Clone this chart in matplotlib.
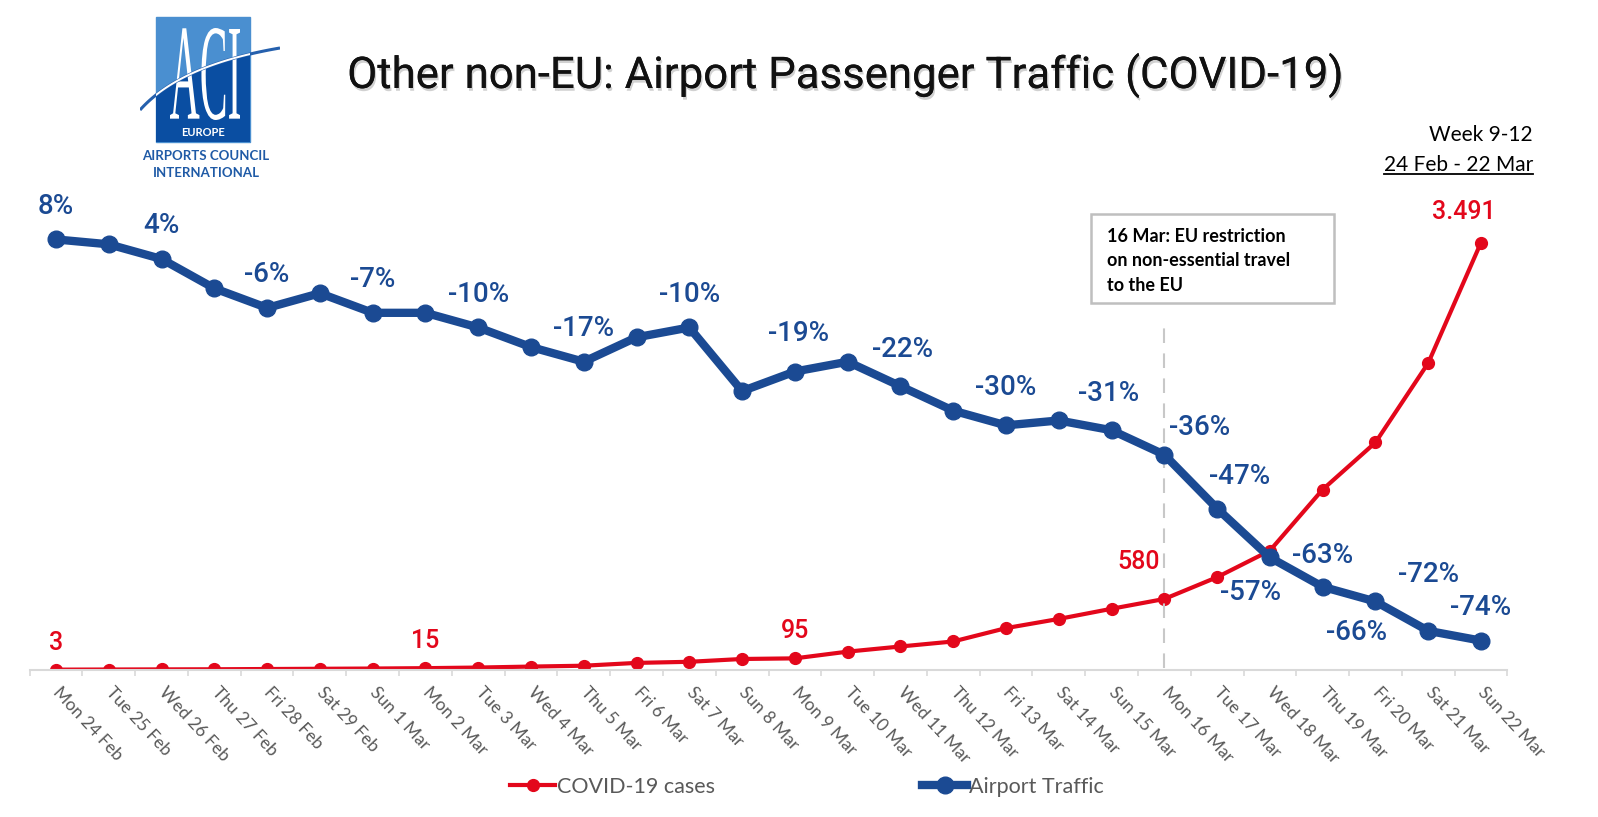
import matplotlib
matplotlib.use('Agg')
import matplotlib.pyplot as plt
from matplotlib import font_manager, patheffects
from matplotlib.patches import Rectangle, PathPatch
from matplotlib.path import Path
from matplotlib.textpath import TextPath
from matplotlib.transforms import Affine2D
from matplotlib.lines import Line2D
import numpy as np

# data
days = ['Mon 24 Feb', 'Tue 25 Feb', 'Wed 26 Feb', 'Thu 27 Feb', 'Fri 28 Feb', 'Sat 29 Feb',
        'Sun 1 Mar', 'Mon 2 Mar', 'Tue 3 Mar', 'Wed 4 Mar', 'Thu 5 Mar', 'Fri 6 Mar',
        'Sat 7 Mar', 'Sun 8 Mar', 'Mon 9 Mar', 'Tue 10 Mar', 'Wed 11 Mar', 'Thu 12 Mar',
        'Fri 13 Mar', 'Sat 14 Mar', 'Sun 15 Mar', 'Mon 16 Mar', 'Tue 17 Mar', 'Wed 18 Mar',
        'Thu 19 Mar', 'Fri 20 Mar', 'Sat 21 Mar', 'Sun 22 Mar']
traffic = [8, 7, 4, -2, -6, -3, -7, -7, -10, -14, -17, -12, -10, -23, -19, -17, -22, -27,
           -30, -29, -31, -36, -47, -57, -63, -66, -72, -74]
cases = [3, 4, 5, 6, 8, 10, 12, 15, 20, 28, 35, 58, 67, 90, 95, 150, 192, 233, 342, 417,
         500, 580, 758, 975, 1474, 1858, 2507, 3491]
traffic_labelled = [0, 2, 4, 6, 8, 10, 12, 14, 16, 18, 20, 21, 22, 23, 24, 25, 26, 27]
cases_labelled = [0, 7, 14, 21, 27]

# label offsets in pixels (layout only)
traffic_off = {14: (4, 38), 16: (2, 37), 18: (0, 38), 20: (-3, 37), 21: (35, 27),
               22: (22, 32), 23: (-19, -35), 24: (0, 31), 25: (-19, -31), 26: (0, 56)}
cases_off = {21: (-26, 37), 27: (-17, 31)}

BLUE = '#1b4a93'
RED = '#e3071b'
GREY = '#595959'
W, H = 1598, 817

names = {f.name for f in font_manager.fontManager.ttflist}
def pick(*fams):
    return [f for f in fams if f in names] + ['DejaVu Sans']
NARROW = pick('Liberation Sans Narrow', 'DejaVu Sans Condensed', 'Roboto')
BODY = pick('Lato', 'Carlito')
TITLE = pick('Roboto')

fig = plt.figure(figsize=(W / 100, H / 100), dpi=100)
ax = fig.add_axes([29.6 / W, 147 / H, 1477.8 / W, 480 / H])
ax2 = ax.twinx()

x = np.arange(len(days))
l_red, = ax.plot(x, cases, color=RED, lw=3, marker='o', markersize=8.5)
l_blue, = ax2.plot(x, traffic, color=BLUE, lw=6, marker='o', markersize=12)
ax.axvline(21, ymin=0.004, ymax=0.733, color='#c8c8c8', lw=1.5, dashes=(7, 5))

ax.set_xlim(-0.5, len(days) - 0.5)
ax.set_ylim(0, 3920)
ax2.set_ylim(-80, 18.1)
for a in (ax, ax2):
    a.set_yticks([])
    for s in ('left', 'right', 'top'):
        a.spines[s].set_visible(False)
    a.spines['bottom'].set_color('#d9d9d9')
    a.spines['bottom'].set_linewidth(1.5)
ax2.spines['bottom'].set_visible(False)

ax.set_xticks(x)
ax.set_xticklabels(days, rotation=-47, ha='left', va='center', rotation_mode='anchor',
                   fontsize=12.5, color=GREY, family=BODY)
ax.tick_params(axis='x', which='major', length=0, pad=14)
ax.set_xticks(np.arange(-0.5, len(days)), minor=True)
ax.tick_params(axis='x', which='minor', length=4, color='#d9d9d9', width=1.2)

for i in traffic_labelled:
    dx, dy = traffic_off.get(i, (0, 33))
    ax2.annotate('{}%'.format(traffic[i]), (i, traffic[i]), xytext=(dx, dy),
                 textcoords='offset pixels', ha='center', va='center',
                 fontsize=20, color=BLUE, family=NARROW, weight='medium')
for i in cases_labelled:
    dx, dy = cases_off.get(i, (0, 27))
    ax.annotate('{:,}'.format(cases[i]).replace(',', '.'), (i, cases[i]), xytext=(dx, dy),
                textcoords='offset pixels', ha='center', va='center',
                fontsize=18, color=RED, family=NARROW, weight='medium')

# annotation box
fig.add_artist(Rectangle((1091 / W, 1 - 303 / H), 243 / W, 89 / H, transform=fig.transFigure,
                         facecolor='white', edgecolor='#bfbfbf', lw=1.8))
for k, line in enumerate(['16 Mar: EU restriction', 'on non-essential travel', 'to the EU']):
    fig.text(1107 / W, 1 - (242 + 24.5 * k) / H, line, ha='left', va='baseline',
             fontsize=13, weight='bold', family=BODY, color='black')

# title
fig.text(845 / W, 1 - 88 / H, 'Other non-EU: Airport Passenger Traffic (COVID-19)',
         ha='center', va='baseline', fontsize=31.5, family=TITLE, color='#111111',
         path_effects=[patheffects.withSimplePatchShadow(offset=(1, -2), alpha=0.18),
                       patheffects.Normal()])

fig.text(1533 / W, 1 - 141 / H, 'Week 9-12', ha='right', va='baseline', fontsize=15, family=BODY)
t2 = fig.text(1533 / W, 1 - 171 / H, '24 Feb - 22 Mar', ha='right', va='baseline',
              fontsize=15, family=BODY)

# legend
fig.legend([l_red, l_blue], ['COVID-19 cases', 'Airport Traffic'], loc='center',
           bbox_to_anchor=(0.505, 0.037), ncol=2, frameon=False, columnspacing=9.6,
           handlelength=2.1, handletextpad=0.1, labelcolor=GREY,
           prop=font_manager.FontProperties(family=BODY, size=15.5))

# logo
lax = fig.add_axes([140 / W, 1 - 185 / H, 140 / W, 175 / H])
lax.set_xlim(0, 140)
lax.set_ylim(175, 0)
lax.axis('off')
box = Rectangle((16, 7), 94, 125, color='#4a8fd0')
lax.add_patch(box)
t = np.linspace(0, 1, 60)
p0, p1, p2 = np.array([0, 100]), np.array([40, 55]), np.array([140, 38])
curve = ((1 - t) ** 2)[:, None] * p0 + (2 * t * (1 - t))[:, None] * p1 + (t ** 2)[:, None] * p2
dark = np.vstack([curve, [[140, 175], [0, 175]], curve[:1]])
dp = PathPatch(Path(dark, closed=True), color='#0a4ea2', lw=0)
lax.add_patch(dp)
dp.set_clip_path(box)
tp = TextPath((0, 0), 'ACI', size=100, prop=font_manager.FontProperties(family='Liberation Serif'))
bb = tp.get_extents()
tr = Affine2D().translate(-bb.x0, -bb.y0).scale(70 / bb.width, -92 / bb.height).translate(30, 110)
lax.add_patch(PathPatch(tr.transform_path(tp), color='white', lw=0))
lax.plot(curve[:, 0], curve[:, 1], color='#2560ad', lw=2.2, solid_capstyle='butt')
wl, = lax.plot(curve[:, 0], curve[:, 1], color='white', lw=1.4)
wl.set_clip_path(box)
lax.text(63, 122, 'EUROPE', color='white', ha='center', va='center', fontsize=8,
         family=BODY, weight='bold')
lax.text(66, 146, 'AIRPORTS COUNCIL', color='#1f5aa6', ha='center', va='center',
         fontsize=9.5, family=BODY, weight='bold')
lax.text(66, 163, 'INTERNATIONAL', color='#1f5aa6', ha='center', va='center',
         fontsize=9.5, family=BODY, weight='bold')

# underline the date range
fig.canvas.draw()
ext = t2.get_window_extent()
fig.add_artist(Line2D([ext.x0 / W, ext.x1 / W], [1 - 174 / H, 1 - 174 / H],
                      transform=fig.transFigure, color='black', lw=1.3))

fig.savefig('out.png', dpi=100)
